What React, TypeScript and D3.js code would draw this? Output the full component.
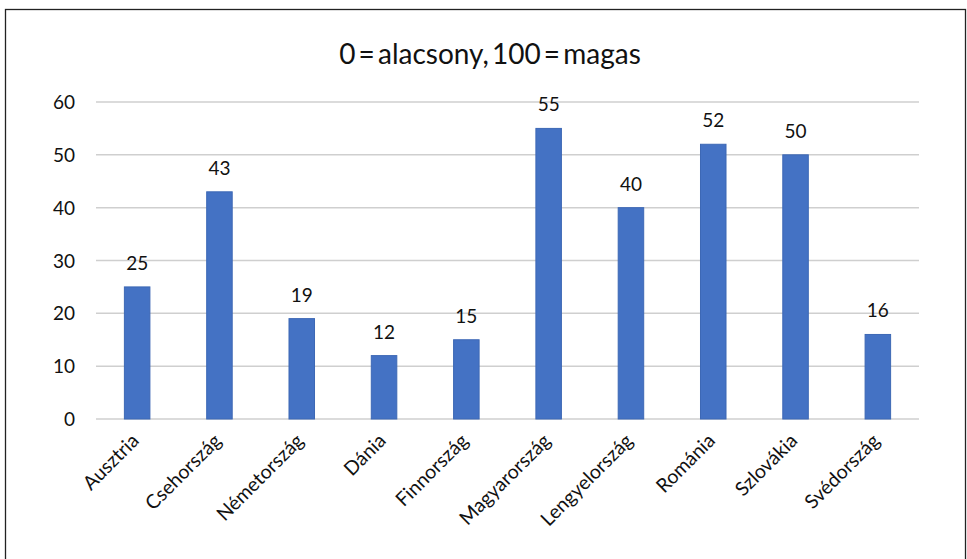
import React from "react";
import * as d3 from "d3";

const categories = ["Ausztria", "Csehország", "Németország", "Dánia", "Finnország", "Magyarország", "Lengyelország", "Románia", "Szlovákia", "Svédország"];
const values = [25, 43, 19, 12, 15, 55, 40, 52, 50, 16];
const yTicks = [0, 10, 20, 30, 40, 50, 60];
const title = "0 = alacsony, 100 = magas";

export default function App() {
  const W = 967, H = 559;
  const left = 96, right = 919, top = 102, bottom = 419;
  const x = d3.scaleBand<string>().domain(categories).range([left, right]).paddingInner(0.69).paddingOuter(0.345);
  const y = d3.scaleLinear().domain([0, 60]).range([bottom, top]);
  const font = "Lato, 'Open Sans', sans-serif";
  return (
    <svg width={W} height={H} style={{ position: "absolute", left: 0, top: 0, background: "#fff" }}>
      <rect x={5.5} y={9.5} width={960} height={560} fill="#fff" stroke="#222" strokeWidth={1.3} />
      <text x={490} y={64} textAnchor="middle" fontFamily={font} fontSize={28} fill="#111" wordSpacing={-4}>{title}</text>
      {yTicks.map(t => (
        <g key={t}>
          <line x1={left} x2={right} y1={y(t)} y2={y(t)} stroke="#cfcfcf" strokeWidth={1.5} />
          <text x={75} y={y(t) + 7} textAnchor="end" fontFamily={font} fontSize={19} fill="#111">{t}</text>
        </g>
      ))}
      {categories.map((c, i) => {
        const bx = x(c)!;
        const bw = x.bandwidth();
        const cx = bx + bw / 2;
        return (
          <g key={c}>
            <rect x={bx} y={y(values[i])} width={bw} height={bottom - y(values[i])} fill="#4472C4" stroke="#3d68b5" strokeWidth={1} />
            <text x={cx} y={y(values[i]) - 17} textAnchor="middle" fontFamily={font} fontSize={19} fill="#111">{values[i]}</text>
            <text transform={`translate(${cx + 3},${bottom + 23}) rotate(-45)`} textAnchor="end" fontFamily={font} fontSize={19.5} fill="#111">{c}</text>
          </g>
        );
      })}
    </svg>
  );
}
